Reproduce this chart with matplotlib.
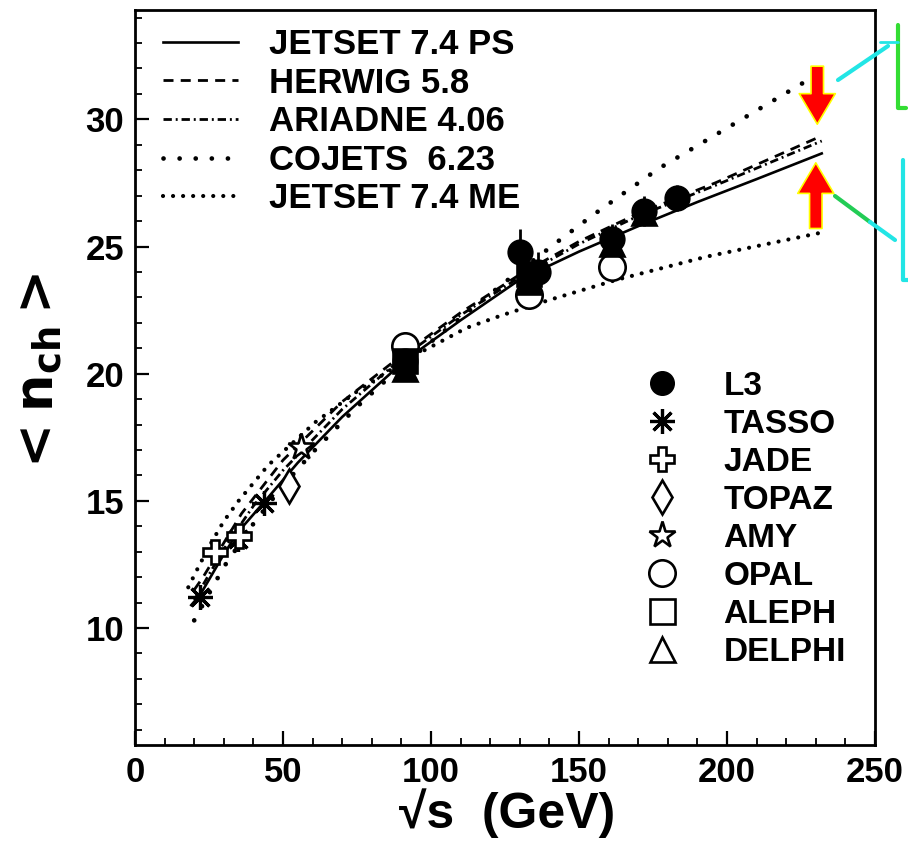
import matplotlib
matplotlib.use("Agg")
import matplotlib.pyplot as plt
from matplotlib.lines import Line2D
import numpy as np

plt.rcParams['font.family'] = ['Liberation Sans', 'DejaVu Sans']
plt.rcParams['font.weight'] = 'bold'

# ---------------- data ----------------
# model curves: sqrt(s) [GeV] and <n_ch>
jetset_ps_E = [19, 22, 30, 35, 44, 55, 70, 91, 110, 130, 150, 170, 190, 210, 232]
jetset_ps_n = [10.9, 11.3, 12.9, 13.8, 15.0, 16.5, 18.3, 20.5, 22.1, 23.7, 24.8, 25.8, 26.75, 27.65, 28.66]

herwig_E = [20, 23, 36, 50, 70, 91, 110, 130, 150, 170, 196, 232]
herwig_n = [11.5, 12.0, 14.5, 16.6, 18.9, 20.8, 22.4, 23.9, 25.2, 26.3, 27.5, 29.35]

ariadne_E = [20, 30, 40, 50, 70, 91, 110, 130, 150, 170, 196, 232]
ariadne_n = [11.1, 13.1, 14.8, 16.2, 18.6, 20.7, 22.3, 23.8, 25.1, 26.2, 27.4, 29.15]

cojets_E = [20, 30, 40, 50, 60, 75, 91, 110, 125, 144, 155, 166, 177, 231]
cojets_n = [10.3, 12.4, 14.1, 15.6, 16.9, 18.7, 20.4, 22.2, 23.6, 25.3, 26.26, 27.17, 28.07, 31.8]

jetset_me_E = [18, 21, 25, 30, 35, 45, 61, 75, 91, 112, 124, 140, 163, 193, 232]
jetset_me_n = [11.6, 12.3, 13.2, 14.2, 15.0, 16.4, 18.1, 19.3, 20.5, 21.8, 22.3, 22.9, 23.7, 24.6, 25.55]

# measurements
l3_E = [91.2, 130, 136, 161, 172, 183]
l3_n = [20.5, 24.8, 24.0, 25.3, 26.4, 26.9]
l3_err = [0.3, 0.9, 0.8, 0.6, 0.6, 0.5]

tasso_E = [22, 34.8, 43.6]
tasso_n = [11.2, 13.5, 14.9]

jade_E = [27, 35]
jade_n = [13.0, 13.6]

topaz_E = [52]
topaz_n = [15.6]

amy_E = [56]
amy_n = [17.1]

opal_E = [91.2, 133, 161]
opal_n = [21.1, 23.1, 24.2]

aleph_E = [91.2, 133]
aleph_n = [20.5, 23.9]

delphi_E = [91.2, 133, 161, 172]
delphi_n = [20.2, 23.6, 25.1, 26.3]

model_labels = ["JETSET 7.4 PS", "HERWIG 5.8", "ARIADNE 4.06", "COJETS  6.23", "JETSET 7.4 ME"]
exp_labels = ["L3", "TASSO", "JADE", "TOPAZ", "AMY", "OPAL", "ALEPH", "DELPHI"]

x_ticks = [0, 50, 100, 150, 200, 250]
y_ticks = [10, 15, 20, 25, 30]

# hand-drawn annotation arrows (data coords)
arrow_down = ((230.5, 32.2), (230.5, 29.7))
arrow_up = ((230.0, 25.6), (230.0, 28.4))

# ---------------- figure ----------------
W, H = 908, 843
fig = plt.figure(figsize=(W / 100, H / 100), dpi=100)
ax = fig.add_axes([135 / W, 1 - 745 / H, 740 / W, 735 / H])
ax.set_xlim(0, 250)
ax.set_ylim(5.4, 34.3)

k = 'black'
l1, = ax.plot(jetset_ps_E, jetset_ps_n, color=k, lw=1.9, ls='-')
l2, = ax.plot(herwig_E, herwig_n, color=k, lw=2.0, ls=(0, (3.6, 2.6)))
l3, = ax.plot(ariadne_E, ariadne_n, color=k, lw=2.0, ls=(0, (3.0, 1.4, 0.7, 1.4)))
l4, = ax.plot(cojets_E, cojets_n, color=k, lw=3.4, ls=(0, (0.01, 3.4)), dash_capstyle='round')
l5, = ax.plot(jetset_me_E, jetset_me_n, color=k, lw=3.0, ls=(0, (0.01, 2.4)), dash_capstyle='round')

ms = 17
mew = 1.9
ax.errorbar(l3_E, l3_n, yerr=l3_err, fmt='o', color=k, ms=ms, mew=mew,
            elinewidth=2, capsize=0, zorder=6)
ax.plot(tasso_E, tasso_n, ls='none', marker=(8, 2, 0), ms=ms + 1, mew=2.3, color=k, zorder=5)
ax.plot(jade_E, jade_n, ls='none', marker='P', ms=ms, mfc='white', mec=k, mew=mew, zorder=5)
ax.plot(topaz_E, topaz_n, ls='none', marker='d', ms=ms, mfc='white', mec=k, mew=mew, zorder=5)
ax.plot(amy_E, amy_n, ls='none', marker='*', ms=ms + 3, mfc='white', mec=k, mew=mew, zorder=5)
ax.plot(opal_E, opal_n, ls='none', marker='o', ms=ms + 2, mfc='white', mec=k, mew=mew, zorder=4)
ax.plot(aleph_E, aleph_n, ls='none', marker='s', ms=ms, mfc=k, mec=k, mew=mew, zorder=5)
ax.plot(delphi_E, delphi_n, ls='none', marker='^', ms=ms, mfc=k, mec=k, mew=mew, zorder=5)

# red hand-drawn arrows
for (tail, tip) in (arrow_down, arrow_up):
    ax.annotate('', xy=tip, xytext=tail,
                arrowprops=dict(arrowstyle='simple,head_width=1.3,head_length=1.1,tail_width=0.45',
                                mutation_scale=20, fc='red', ec='yellow', lw=1.2),
                zorder=7)

# axes styling
for s in ax.spines.values():
    s.set_linewidth(2.0)
ax.set_xticks(x_ticks)
ax.set_yticks(y_ticks)
ax.set_xticks(np.arange(0, 251, 10), minor=True)
ax.set_yticks(np.arange(6, 35, 1), minor=True)
ax.tick_params(which='major', direction='in', length=10, width=1.6, labelsize=25, pad=8)
ax.tick_params(which='minor', direction='in', length=5, width=1.3)
for lab in ax.get_xticklabels() + ax.get_yticklabels():
    lab.set_fontweight('bold')

fig.text(507 / W, 1 - 813 / H, '\u221as  (GeV)', fontsize=36, fontweight='bold',
         ha='center', va='center')
fig.text(40 / W, 1 - 375 / H, r'$<\mathbf{n}_{\mathbf{ch}}>$', fontsize=38, rotation=90,
         ha='center', va='center')

# model legend
leg1 = ax.legend([l1, l2, l3, l4, l5], model_labels, loc='upper left',
                 bbox_to_anchor=(163 / W, 1 - 28 / H), bbox_transform=fig.transFigure,
                 frameon=False, borderpad=0, borderaxespad=0,
                 handlelength=2.15, handletextpad=0.9, labelspacing=0.16,
                 prop={'size': 25, 'weight': 'bold'})
ax.add_artist(leg1)

# experiment legend
exp_handles = [
    Line2D([], [], ls='none', marker='o', ms=ms, color=k),
    Line2D([], [], ls='none', marker=(8, 2, 0), ms=ms + 1, mew=2.3, color=k),
    Line2D([], [], ls='none', marker='P', ms=ms, mfc='white', mec=k, mew=mew),
    Line2D([], [], ls='none', marker='d', ms=ms, mfc='white', mec=k, mew=mew),
    Line2D([], [], ls='none', marker='*', ms=ms + 3, mfc='white', mec=k, mew=mew),
    Line2D([], [], ls='none', marker='o', ms=ms + 2, mfc='white', mec=k, mew=mew),
    Line2D([], [], ls='none', marker='s', ms=ms + 1, mfc='white', mec=k, mew=mew),
    Line2D([], [], ls='none', marker='^', ms=ms + 1, mfc='white', mec=k, mew=mew),
]
leg2 = ax.legend(exp_handles, exp_labels, loc='upper left',
                 bbox_to_anchor=(647 / W, 1 - 371 / H), bbox_transform=fig.transFigure,
                 frameon=False, borderpad=0, borderaxespad=0,
                 handlelength=0.9, handletextpad=1.4, labelspacing=0.21,
                 prop={'size': 24, 'weight': 'bold'})

# hand-drawn cyan/green marks right of the frame (figure pixels)
def figline(xs, ys, color, lw=3):
    fig.add_artist(Line2D([x / W for x in xs], [1 - y / H for y in ys], color=color, lw=lw,
                          solid_capstyle='round'))

figline([838, 888], [80, 46], '#22e5e5')
figline([898, 898, 906], [25, 108, 108], '#33dd33')
figline([880, 898], [42, 42], '#22e5e5', lw=2)
figline([835, 870], [196, 222], '#22cc55')
figline([870, 895], [222, 240], '#22e5e5')
figline([903, 903, 908], [160, 280, 280], '#22e5e5')

fig.savefig('out.png', dpi=100)
